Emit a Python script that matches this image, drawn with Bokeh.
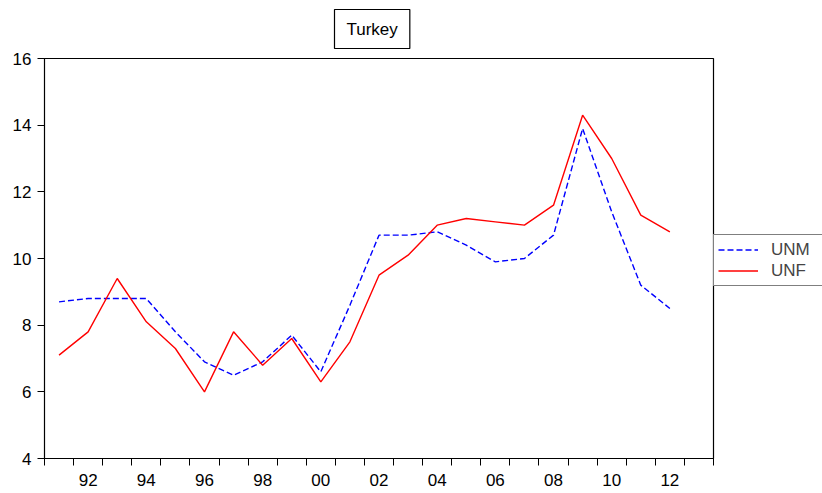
from bokeh.plotting import figure
from bokeh.models import FixedTicker, Legend, LegendItem, Title
from bokeh.embed import file_html
from bokeh.resources import INLINE

years = list(range(1991, 2013))
unm = [8.7, 8.8, 8.8, 8.8, 7.8, 6.9, 6.5, 6.9, 7.7, 6.6, 8.6, 10.7, 10.7, 10.8, 10.4, 9.9, 10.0, 10.7, 13.9, 11.4, 9.2, 8.5]
unf = [7.1, 7.8, 9.4, 8.1, 7.3, 6.0, 7.8, 6.8, 7.6, 6.3, 7.5, 9.5, 10.1, 11.0, 11.2, 11.1, 11.0, 11.6, 14.3, 13.0, 11.3, 10.8]
label_years = list(range(1992, 2013, 2))
y_ticks = [4, 6, 8, 10, 12, 14, 16]
title_text = "Turkey"

FONT = "Liberation Sans"

p = figure(frame_width=669, frame_height=400, x_range=(1990.5, 2013.5), y_range=(4, 16),
           output_backend="svg", toolbar_location=None,
           min_border_left=44, min_border_right=0, min_border_top=58, min_border_bottom=34)
p.background_fill_color = "white"
p.border_fill_color = "white"
p.outline_line_color = "black"
p.outline_line_width = 1.2
p.xgrid.visible = False
p.ygrid.visible = False

r1 = p.line(years, unm, line_color="#0000FF", line_width=1.4, line_dash="6 3")
r2 = p.line(years, unf, line_color="#FF0000", line_width=1.4)

# x axis
xa = p.xaxis[0]
xa.ticker = FixedTicker(ticks=label_years, minor_ticks=[y - 0.5 for y in range(1991, 2015)])
xa.major_label_overrides = {y: str(y)[2:] for y in label_years}
xa.major_tick_out = 0
xa.major_tick_in = 0
xa.minor_tick_out = 7
xa.minor_tick_in = 0
xa.minor_tick_line_color = "black"
xa.axis_line_color = "black"
xa.major_label_standoff = 8
xa.major_label_text_font = FONT
xa.major_label_text_font_size = "17px"
xa.major_label_text_color = "black"

# y axis
ya = p.yaxis[0]
ya.ticker = FixedTicker(ticks=y_ticks, minor_ticks=[])
ya.major_tick_out = 7
ya.major_tick_in = 0
ya.major_tick_line_color = "black"
ya.axis_line_color = "black"
ya.major_label_standoff = 6
ya.major_label_text_font = FONT
ya.major_label_text_font_size = "17px"
ya.major_label_text_color = "black"

legend = Legend(items=[LegendItem(label="UNM", renderers=[r1]),
                       LegendItem(label="UNF", renderers=[r2])],
                location=(0, 172), margin=0, padding=4, spacing=0,
                glyph_width=40, glyph_height=21, label_height=21, label_width=47,
                label_standoff=13,
                label_text_font=FONT, label_text_font_size="17px",
                border_line_color="black", border_line_width=1.2,
                background_fill_color="white", background_fill_alpha=1.0)
p.add_layout(legend, "right")

p.title = Title(text=title_text, align="left", vertical_align="top", text_font=FONT,
                text_font_size="17px", text_font_style="normal", text_color="black",
                padding=(12, 10), standoff=16,
                border_line_color="black", border_line_width=1.2,
                background_fill_color="white", offset=290)

open("out.html", "w").write(file_html(p, INLINE))
